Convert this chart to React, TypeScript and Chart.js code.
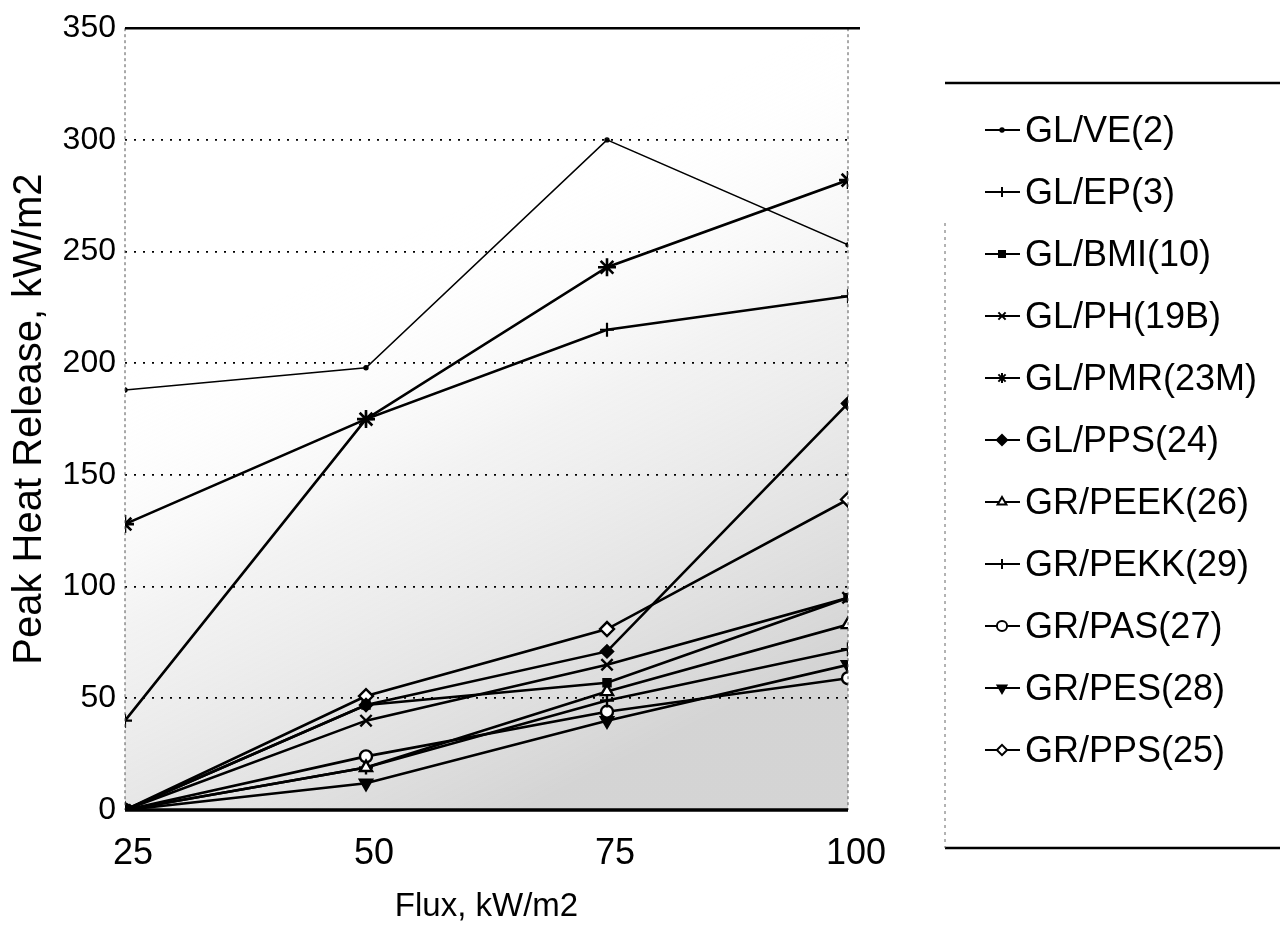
import React, { useEffect, useRef } from 'react';
import { Chart, registerables } from 'chart.js';
import * as helpers from 'chart.js/helpers';

Chart.register(...registerables);

// ---- data ----
const fluxLevels = [25, 50, 75, 100];
const yTickValues = [0, 50, 100, 150, 200, 250, 300, 350];

const seriesNames = [
  'GL/VE(2)', 'GL/EP(3)', 'GL/BMI(10)', 'GL/PH(19B)', 'GL/PMR(23M)', 'GL/PPS(24)',
  'GR/PEEK(26)', 'GR/PEKK(29)', 'GR/PAS(27)', 'GR/PES(28)', 'GR/PPS(25)',
];

const glVE2 = [188, 198, 300, 253];
const glEP3 = [40, 175, 215, 230];
const glBMI10 = [0, 47, 57, 95];
const glPH19B = [0, 40, 65, 95];
const glPMR23M = [128, 175, 243, 282];
const glPPS24 = [0, 47, 71, 182];
const grPEEK26 = [0, 19, 53, 83];
const grPEKK29 = [0, 19, 49, 72];
const grPAS27 = [0, 24, 44, 59];
const grPES28 = [0, 12, 40, 65];
const grPPS25 = [0, 51, 81, 139];

const seriesValues = [glVE2, glEP3, glBMI10, glPH19B, glPMR23M, glPPS24, grPEEK26, grPEKK29, grPAS27, grPES28, grPPS25];

// marker styles (style only)
const markerStyles: any[] = [
  { pointStyle: 'circle', radius: 2, fill: '#000', rotation: 0, width: 1.4 },
  { pointStyle: 'cross', radius: 7, fill: '#000', rotation: 0, width: 2.2 },
  { pointStyle: 'rect', radius: 5, fill: '#000', rotation: 0, width: 2.4 },
  { pointStyle: 'crossRot', radius: 8, fill: '#000', rotation: 0, width: 2.4 },
  { pointStyle: 'star', radius: 9, fill: '#000', rotation: 0, width: 2.6 },
  { pointStyle: 'rectRot', radius: 6, fill: '#000', rotation: 0, width: 2.4 },
  { pointStyle: 'triangle', radius: 7, fill: '#fff', rotation: 0, width: 2.4 },
  { pointStyle: 'cross', radius: 7, fill: '#000', rotation: 0, width: 2.4 },
  { pointStyle: 'circle', radius: 6, fill: '#fff', rotation: 0, width: 2.4 },
  { pointStyle: 'triangle', radius: 7, fill: '#000', rotation: 180, width: 2.4 },
  { pointStyle: 'rectRot', radius: 7, fill: '#fff', rotation: 0, width: 2.4 },
];

const FONT = '"Liberation Sans", Arial, Helvetica, sans-serif';

const shadingPlugin = {
  id: 'shading',
  beforeDraw(chart: any) {
    const { ctx, chartArea: a } = chart;
    const g = ctx.createLinearGradient(a.left + a.width * 0.2, a.top + a.height * 0.35, a.left + a.width * 0.55, a.bottom);
    g.addColorStop(0, 'rgba(255,255,255,0)');
    g.addColorStop(0.4, 'rgba(200,200,200,0.22)');
    g.addColorStop(1, 'rgba(160,160,160,0.45)');
    ctx.save();
    ctx.fillStyle = g;
    ctx.fillRect(a.left, a.top, a.width, a.height);
    ctx.restore();
  },
};

const framePlugin = {
  id: 'frame',
  afterDraw(chart: any) {
    const { ctx, chartArea: a } = chart;
    const yS = chart.scales.y;
    ctx.save();
    ctx.strokeStyle = '#555';
    ctx.lineWidth = 1;
    ctx.setLineDash([3, 3]);
    ctx.beginPath();
    ctx.moveTo(a.left, a.top);
    ctx.lineTo(a.left, a.bottom);
    ctx.moveTo(a.right, a.top);
    ctx.lineTo(a.right, a.bottom);
    ctx.stroke();
    ctx.setLineDash([]);
    ctx.strokeStyle = '#000';
    ctx.lineWidth = 2.5;
    ctx.beginPath();
    ctx.moveTo(a.left, yS.getPixelForValue(350));
    ctx.lineTo(a.right + 12, yS.getPixelForValue(350));
    ctx.stroke();
    ctx.lineWidth = 3.5;
    ctx.beginPath();
    ctx.moveTo(a.left, yS.getPixelForValue(0));
    ctx.lineTo(a.right, yS.getPixelForValue(0));
    ctx.stroke();
    ctx.restore();
  },
};

const legendPlugin = {
  id: 'boxLegend',
  afterDraw(chart: any) {
    const { ctx } = chart;
    const boxL = 945, boxR = 1280, boxT = 83, boxB = 848;
    ctx.save();
    ctx.strokeStyle = '#000';
    ctx.lineWidth = 2.5;
    ctx.beginPath();
    ctx.moveTo(boxL, boxT); ctx.lineTo(boxR, boxT);
    ctx.moveTo(boxL, boxB); ctx.lineTo(boxR, boxB);
    ctx.stroke();
    ctx.strokeStyle = '#666';
    ctx.lineWidth = 1;
    ctx.setLineDash([3, 4]);
    ctx.beginPath();
    ctx.moveTo(boxL, boxT + 140); ctx.lineTo(boxL, boxB);
    ctx.stroke();
    ctx.setLineDash([]);
    ctx.font = '36px ' + FONT;
    ctx.textBaseline = 'middle';
    ctx.textAlign = 'left';
    chart.data.datasets.forEach((ds: any, i: number) => {
      const yC = 130 + i * 62;
      ctx.strokeStyle = '#000';
      ctx.lineWidth = 2.2;
      ctx.beginPath();
      ctx.moveTo(985, yC);
      ctx.lineTo(1020, yC);
      ctx.stroke();
      const m = markerStyles[i];
      ctx.fillStyle = m.fill;
      ctx.lineWidth = 2;
      helpers.drawPoint(ctx, { pointStyle: m.pointStyle, radius: Math.min(m.radius, 6) * 0.85, rotation: m.rotation, borderWidth: 2 }, 1002, yC);
      ctx.fillStyle = '#000';
      ctx.fillText(ds.label, 1025, yC + 2);
    });
    ctx.restore();
  },
};

export default function App() {
  const canvasRef = useRef<HTMLCanvasElement | null>(null);

  useEffect(() => {
    if (!canvasRef.current) return;
    const datasets = seriesNames.map((name, i) => {
      const m = markerStyles[i];
      return {
        label: name,
        data: fluxLevels.map((x, j) => ({ x, y: seriesValues[i][j] })),
        borderColor: '#000',
        borderWidth: i === 0 ? 1.6 : 2.6,
        pointStyle: m.pointStyle,
        pointRadius: m.radius,
        pointRotation: m.rotation,
        pointBackgroundColor: m.fill,
        pointBorderColor: '#000',
        pointBorderWidth: m.width,
        fill: false,
        tension: 0,
      };
    });

    const chart = new Chart(canvasRef.current, {
      type: 'line',
      data: { datasets },
      plugins: [shadingPlugin, framePlugin, legendPlugin],
      options: {
        animation: false,
        responsive: false,
        layout: { padding: { left: 0, right: 432, top: 23, bottom: 0 } },
        plugins: { legend: { display: false }, tooltip: { enabled: false } },
        scales: {
          x: {
            type: 'linear',
            min: 25,
            max: 100,
            afterBuildTicks: (s: any) => { s.ticks = fluxLevels.map((v) => ({ value: v })); },
            grid: { display: false },
            border: { display: false },
            ticks: { color: '#000', font: { family: FONT, size: 36 }, padding: 14, maxRotation: 0, labelOffset: 8 },
            title: { display: true, text: 'Flux, kW/m2', color: '#000', font: { family: FONT, size: 33 }, padding: { top: 0, bottom: 8 } },
            afterFit: (s: any) => { s.height = 125; },
          },
          y: {
            type: 'linear',
            min: 0,
            max: 350,
            afterBuildTicks: (s: any) => { s.ticks = yTickValues.map((v) => ({ value: v })); },
            grid: {
              drawTicks: false,
              color: (c: any) => (c.tick && (c.tick.value === 0 || c.tick.value === 350) ? 'rgba(0,0,0,0)' : '#000'),
              lineWidth: 1.8,
            },
            border: { display: false, dash: [2, 7] },
            ticks: { color: '#000', font: { family: FONT, size: 32 }, padding: 9 },
            title: { display: true, text: 'Peak Heat Release, kW/m2', color: '#000', font: { family: FONT, size: 40 }, padding: { top: 6, bottom: 6 } },
            afterFit: (s: any) => { s.width = 125; },
          },
        },
      },
    } as any);
    return () => chart.destroy();
  }, []);

  return (
    <div style={{ position: 'absolute', left: 0, top: 0, width: 1280, height: 935, background: '#fff' }}>
      <canvas ref={canvasRef} width={1280} height={935} style={{ display: 'block' }} />
    </div>
  );
}
